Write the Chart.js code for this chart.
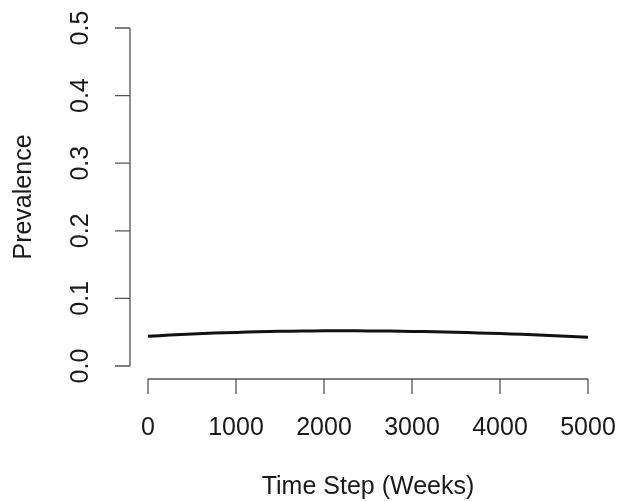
<!DOCTYPE html>
<html>
<head>
<meta charset="utf-8">
<script src="https://cdn.jsdelivr.net/npm/chart.js@4"></script>
<style>
html,body{margin:0;padding:0;background:#fff;}
#wrap{width:617px;height:501px;position:relative;}
</style>
</head>
<body>
<div id="wrap"><canvas id="c" width="617" height="501"></canvas></div>
<script>
const weeks = [0,250,500,750,1000,1250,1500,1750,2000,2250,2500,2750,3000,3250,3500,3750,4000,4250,4500,4750,5000];
const prevalence = [0.0439,0.0458,0.0474,0.0487,0.0497,0.0506,0.0513,0.0518,0.0520,0.0520,0.0519,0.0516,0.0512,0.0506,0.0499,0.0490,0.0480,0.0468,0.0455,0.0441,0.0426];
const xTicks = [0,1000,2000,3000,4000,5000];
const yTicks = [0.0,0.1,0.2,0.3,0.4,0.5];
const yTickLabels = ["0.0","0.1","0.2","0.3","0.4","0.5"];
const xTitle = "Time Step (Weeks)";
const yTitle = "Prevalence";

const FONT = '25px "Liberation Sans", Arial, Helvetica, sans-serif';

const rAxes = {
  id: 'rAxes',
  afterDraw(chart) {
    const ctx = chart.ctx;
    const xs = chart.scales.x, ys = chart.scales.y;
    const axisX = 130, axisY = 379, tick = 15;
    ctx.save();
    ctx.strokeStyle = '#555';
    ctx.lineWidth = 1.3;
    const y0 = ys.getPixelForValue(yTicks[0]), y1 = ys.getPixelForValue(yTicks[yTicks.length-1]);
    ctx.beginPath();
    ctx.moveTo(axisX, y0); ctx.lineTo(axisX, y1);
    yTicks.forEach(v => { const p = ys.getPixelForValue(v); ctx.moveTo(axisX, p); ctx.lineTo(axisX - tick, p); });
    ctx.stroke();
    const x0 = xs.getPixelForValue(xTicks[0]), x1 = xs.getPixelForValue(xTicks[xTicks.length-1]);
    ctx.beginPath();
    ctx.moveTo(x0, axisY); ctx.lineTo(x1, axisY);
    xTicks.forEach(v => { const p = xs.getPixelForValue(v); ctx.moveTo(p, axisY); ctx.lineTo(p, axisY + tick); });
    ctx.stroke();
    ctx.fillStyle = '#1a1a1a';
    ctx.font = FONT;
    ctx.textAlign = 'center';
    ctx.textBaseline = 'alphabetic';
    xTicks.forEach(v => { ctx.fillText(String(v), xs.getPixelForValue(v), 435); });
    ctx.fillText(xTitle, (x0 + x1) / 2, 494);
    yTicks.forEach((v, i) => {
      ctx.save();
      ctx.translate(88, ys.getPixelForValue(v));
      ctx.rotate(-Math.PI / 2);
      ctx.fillText(yTickLabels[i], 0, 0);
      ctx.restore();
    });
    ctx.save();
    ctx.translate(31, (y0 + y1) / 2);
    ctx.rotate(-Math.PI / 2);
    ctx.fillText(yTitle, 0, 0);
    ctx.restore();
    ctx.restore();
  }
};

new Chart(document.getElementById('c'), {
  type: 'line',
  data: {
    datasets: [{
      data: weeks.map((w, i) => ({x: w, y: prevalence[i]})),
      borderColor: '#111',
      borderWidth: 3,
      pointRadius: 0,
      tension: 0.4,
      fill: false
    }]
  },
  options: {
    responsive: false,
    animation: false,
    layout: { padding: { left: 148, right: 29, top: 28, bottom: 135 } },
    plugins: { legend: { display: false }, tooltip: { enabled: false } },
    scales: {
      x: { type: 'linear', min: 0, max: 5000, display: false },
      y: { type: 'linear', min: 0, max: 0.5, display: false }
    }
  },
  plugins: [rAxes]
});
</script>
</body>
</html>
